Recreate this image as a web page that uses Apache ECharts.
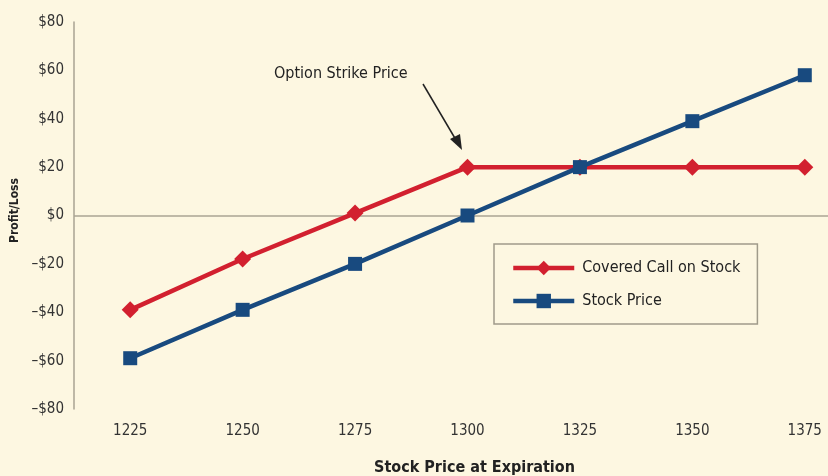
<!DOCTYPE html>
<html><head><meta charset="utf-8">
<script src="https://cdn.jsdelivr.net/npm/echarts@6/dist/echarts.min.js"></script>
<style>html,body{margin:0;padding:0;background:#fdf7e1;}#c{width:828px;height:476px;}</style>
</head><body><div id="c"></div>
<script>
const categories = ['1225','1250','1275','1300','1325','1350','1375'];
const coveredCall = [-39, -18, 1, 20, 20, 20, 20];
const stockPrice = [-59, -39, -20, 0, 20, 39, 58];
const yTicks = [-80, -60, -40, -20, 0, 20, 40, 60, 80];

const FONT = '"Liberation Sans Narrow", "DejaVu Sans Condensed", "Roboto", sans-serif';
const chart = echarts.init(document.getElementById('c'));
chart.setOption({
  backgroundColor: '#fdf7e1',
  animation: false,
  textStyle: { fontFamily: FONT },
  grid: { left: 74, right: -33, top: 22, bottom: 67, containLabel: false, outerBoundsMode: 'none' },
  xAxis: {
    type: 'category',
    data: categories,
    boundaryGap: true,
    axisLine: { show: false },
    axisTick: { show: false },
    axisLabel: { color: '#333', fontSize: 15, margin: 15, fontFamily: FONT },
    name: 'Stock Price at Expiration',
    nameLocation: 'middle',
    nameGap: 51,
    nameTextStyle: { color: '#222', fontSize: 16, fontWeight: 'bold', fontFamily: FONT, padding: [0, 0, 0, 14] }
  },
  yAxis: {
    type: 'value',
    min: yTicks[0], max: yTicks[yTicks.length - 1], interval: 20,
    axisLine: { show: true, lineStyle: { color: '#a8a392', width: 1.5 } },
    axisTick: { show: false },
    splitLine: { show: false },
    axisLabel: {
      color: '#333', fontSize: 15, margin: 10, fontFamily: FONT,
      formatter: v => (v < 0 ? '\u2013$' + Math.abs(v) : '$' + v)
    },
    name: 'Profit/Loss',
    nameLocation: 'middle',
    nameGap: 53,
    nameRotate: 90,
    nameTextStyle: { color: '#222', fontSize: 12, fontWeight: 'bold', fontFamily: FONT, padding: [0, 0, 0, 10] }
  },
  legend: {
    orient: 'vertical',
    left: 494, top: 244,
    padding: [16, 17, 15, 17],
    itemGap: 17,
    itemWidth: 61, itemHeight: 18,
    borderColor: '#a09b8a', borderWidth: 1.5,
    backgroundColor: '#fdf7e1',
    lineStyle: { width: 4.5 },
    textStyle: { color: '#222', fontSize: 16, fontFamily: FONT, padding: [0, 0, 0, 3] },
    data: ['Covered Call on Stock', 'Stock Price']
  },
  series: [
    {
      name: 'Stock Price', type: 'line', data: stockPrice,
      symbol: 'rect', symbolSize: 14,
      lineStyle: { color: '#184a7f', width: 4.5 },
      itemStyle: { color: '#184a7f' },
      z: 3,
      markLine: {
        silent: true, symbol: 'none', label: { show: false },
        lineStyle: { color: '#aaa593', width: 1.5, type: 'solid' },
        data: [{ yAxis: 0 }],
        z: 1
      }
    },
    {
      name: 'Covered Call on Stock', type: 'line', data: coveredCall,
      symbol: 'diamond', symbolSize: 17,
      lineStyle: { color: '#d2202f', width: 4.5 },
      itemStyle: { color: '#d2202f' },
      z: 2
    }
  ],
  graphic: [
    {
      type: 'text', left: 274, top: 66,
      style: { text: 'Option Strike Price', fill: '#222', font: '16px ' + FONT }
    },
    {
      type: 'line',
      shape: { x1: 423, y1: 84, x2: 456, y2: 140 },
      style: { stroke: '#222', lineWidth: 1.5 }
    },
    {
      type: 'polygon',
      shape: { points: [[462, 150], [450, 139], [460, 134]] },
      style: { fill: '#222' }
    }
  ]
});
</script></body></html>
